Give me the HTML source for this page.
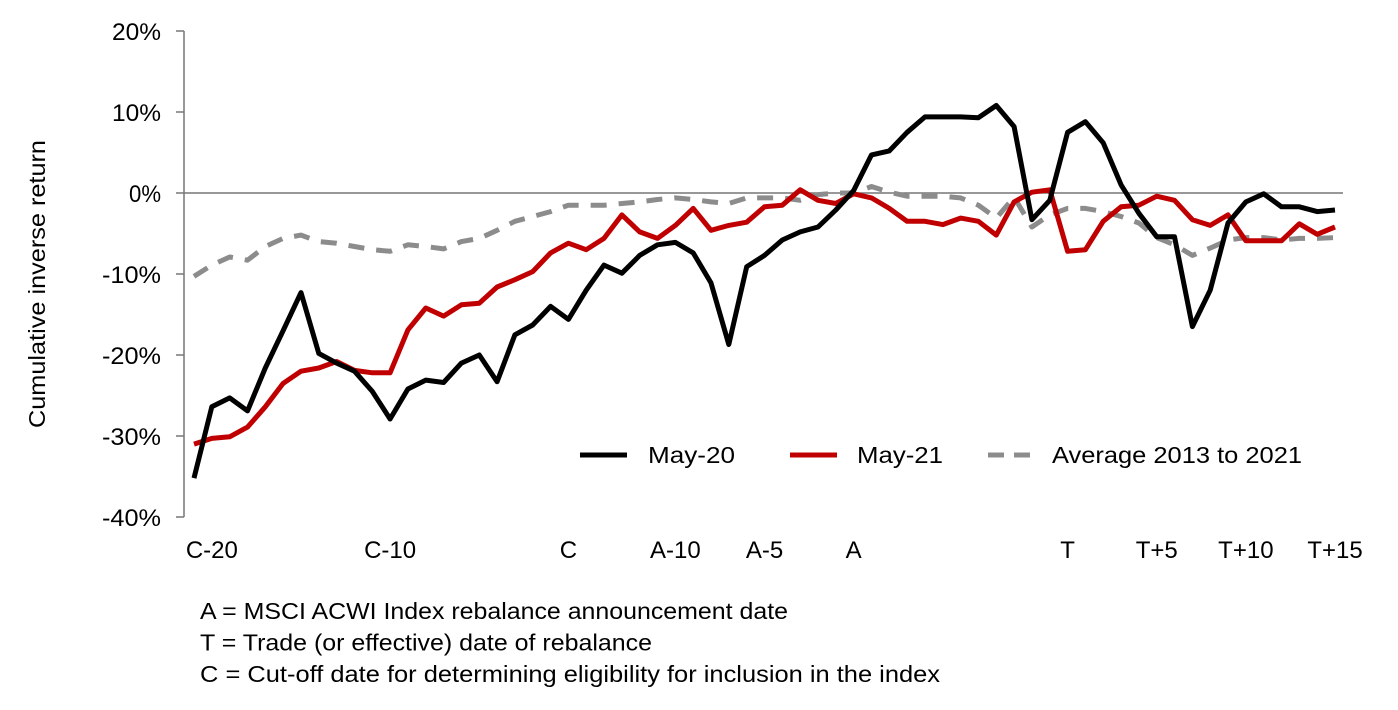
<!DOCTYPE html>
<html><head><meta charset="utf-8"><style>
body{margin:0;background:#fff;width:1398px;height:705px;overflow:hidden}
svg{font-family:"Liberation Sans",sans-serif}
</style></head><body>
<svg id="chart" width="1398" height="705" xmlns="http://www.w3.org/2000/svg"></svg>
<script>
const yTicks=[20,10,0,-10,-20,-30,-40];
const xLabels=["C-20","C-10","C","A-10","A-5","A","T","T+5","T+10","T+15"];
const xLabelIdx=[1,11,21,27,32,37,49,54,59,64];
const may20=[-35.2,-26.4,-25.3,-26.9,-21.6,-17,-12.3,-19.8,-21,-22,-24.5,-27.9,-24.2,-23.1,-23.4,-21,-20,-23.3,-17.5,-16.3,-14,-15.6,-12,-8.9,-9.9,-7.7,-6.4,-6.1,-7.4,-11.1,-18.7,-9.1,-7.7,-5.8,-4.8,-4.2,-2.1,0.3,4.7,5.2,7.5,9.4,9.4,9.4,9.3,10.8,8.2,-3.3,-0.9,7.5,8.8,6.2,1.0,-2.5,-5.4,-5.4,-16.5,-12,-3.7,-1.1,-0.1,-1.7,-1.7,-2.3,-2.1];
const may21=[-31,-30.3,-30.1,-28.9,-26.4,-23.5,-22,-21.6,-20.8,-21.9,-22.2,-22.2,-16.9,-14.2,-15.2,-13.8,-13.6,-11.6,-10.7,-9.7,-7.4,-6.2,-7,-5.6,-2.7,-4.8,-5.6,-4,-1.9,-4.6,-4,-3.6,-1.7,-1.5,0.4,-0.9,-1.3,-0.1,-0.6,-1.9,-3.5,-3.5,-3.9,-3.1,-3.5,-5.2,-1.1,0.1,0.4,-7.2,-7,-3.5,-1.7,-1.5,-0.4,-0.9,-3.3,-4,-2.7,-5.9,-5.9,-5.9,-3.8,-5.1,-4.2];
const avg=[-10.3,-8.9,-7.9,-8.3,-6.6,-5.6,-5.2,-6,-6.2,-6.6,-7,-7.2,-6.4,-6.6,-6.9,-6,-5.6,-4.6,-3.5,-2.9,-2.3,-1.5,-1.5,-1.5,-1.3,-1.1,-0.8,-0.6,-0.8,-1.1,-1.3,-0.6,-0.6,-0.6,-0.9,-0.2,0,0,0.8,0.1,-0.4,-0.4,-0.4,-0.6,-1.5,-3.1,-0.5,-4.2,-2.7,-1.9,-1.9,-2.3,-2.9,-3.7,-5.5,-6.4,-7.7,-6.8,-5.8,-5.5,-5.5,-5.8,-5.6,-5.6,-5.5];
const NS="http://www.w3.org/2000/svg";
const svg=document.getElementById('chart');
const X0=194,X1=1335,N=may20.length;
function xs(i){return X0+(X1-X0)*i/(N-1);}
function ys(v){return 193-v*8.1;}
function mk(t,a,txt){const e=document.createElementNS(NS,t);for(const k in a)e.setAttribute(k,a[k]);if(txt!==undefined)e.textContent=txt;svg.appendChild(e);return e;}
let ax=mk('line',{x1:184,y1:31,x2:184,y2:517,stroke:'#777','stroke-width':1.5});


yTicks.forEach(v=>{
 let t=mk('line',{x1:176,y1:ys(v),x2:184,y2:ys(v),stroke:'#777','stroke-width':1.5});
 
 
 const s=v+'%';
 const w=s.length===2?32:(s.length===3?(v<0?38:49):59);
 let l=mk('text',{x:161,y:ys(v)+9,'text-anchor':'end','font-size':24,fill:'#000',textLength:w,lengthAdjust:'spacingAndGlyphs'},s);
 
 
});
let z=mk('line',{x1:184,y1:ys(0),x2:1343,y2:ys(0),stroke:'#777','stroke-width':1.5});


xLabels.forEach((s,k)=>{
 let l=mk('text',{x:xs(xLabelIdx[k]),y:558,'text-anchor':'middle','font-size':24,fill:'#000'},s);
 
 
});
let yt=mk('text',{x:0,y:0,transform:'translate(45,284) rotate(-90)','text-anchor':'middle','font-size':23,fill:'#000',textLength:288,lengthAdjust:'spacingAndGlyphs'},'Cumulative inverse return');


function line(d,col,dash,name){
 const p=d.map((v,i)=>(i?'L':'M')+xs(i).toFixed(1)+','+ys(v).toFixed(1)).join('');
 const a={d:p,fill:'none',stroke:col,'stroke-width':5,'stroke-linejoin':'round'};
 if(dash)a['stroke-dasharray']=dash;
 let e=mk('path',a);
 
 
}
line(avg,'#8c8c8c','16,12','series-average');
line(may21,'#c00000',null,'series-may-21');
line(may20,'#000000',null,'series-may-20');
const leg=[[580,648,'#000',null,'May-20',87],[790,857,'#c00000',null,'May-21',86],[988,1052,'#8c8c8c','16,10','Average 2013 to 2021',250]];
leg.forEach(g=>{
 const a={x1:g[0],y1:455,x2:g[0]+47,y2:455,stroke:g[2],'stroke-width':5};
 if(g[3])a['stroke-dasharray']=g[3];
 let l=mk('line',a);
 
 
 let t=mk('text',{x:g[1],y:463,'font-size':23,fill:'#000',textLength:g[5],lengthAdjust:'spacingAndGlyphs'},g[4]);
 
 
});
const notes=["A = MSCI ACWI Index rebalance announcement date","T = Trade (or effective) date of rebalance","C = Cut-off date for determining eligibility for inclusion in the index"];
const noteW=[588,452,740];
notes.forEach((s,i)=>{
 let t=mk('text',{x:200,y:619+i*31.5,'font-size':23,fill:'#000',textLength:noteW[i],lengthAdjust:'spacingAndGlyphs'},s);
 
 
});
</script>
</body></html>
